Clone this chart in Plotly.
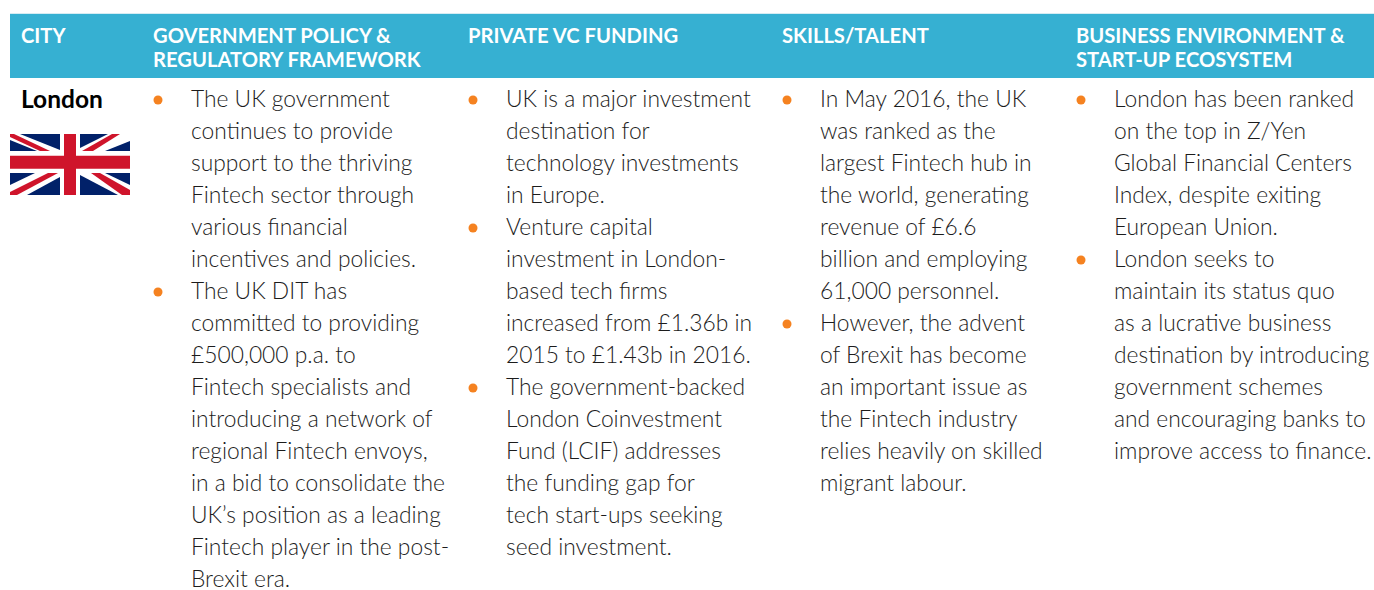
import plotly.graph_objects as go

# ---------- content ----------
headers = [
    ["CITY"],
    ["GOVERNMENT POLICY &", "REGULATORY FRAMEWORK"],
    ["PRIVATE VC FUNDING"],
    ["SKILLS/TALENT"],
    ["BUSINESS ENVIRONMENT &", "START-UP ECOSYSTEM"],
]
city = "London"
policy = [
    ["The UK government", "continues to provide", "support to the thriving", "Fintech sector through",
     "various financial", "incentives and policies."],
    ["The UK DIT has", "committed to providing", "£500,000 p.a. to", "Fintech specialists and",
     "introducing a network of", "regional Fintech envoys,", "in a bid to consolidate the",
     "UK’s position as a leading", "Fintech player in the post-", "Brexit era."],
]
funding = [
    ["UK is a major investment", "destination for", "technology investments", "in Europe."],
    ["Venture capital", "investment in London-", "based tech firms", "increased from £1.36b in", "2015 to £1.43b in 2016."],
    ["The government-backed", "London Coinvestment", "Fund (LCIF) addresses", "the funding gap for",
     "tech start-ups seeking", "seed investment."],
]
skills = [
    ["In May 2016, the UK", "was ranked as the", "largest Fintech hub in", "the world, generating",
     "revenue of £6.6", "billion and employing", "61,000 personnel."],
    ["However, the advent", "of Brexit has become", "an important issue as", "the Fintech industry",
     "relies heavily on skilled", "migrant labour."],
]
business = [
    ["London has been ranked", "on the top in Z/Yen", "Global Financial Centers", "Index, despite exiting",
     "European Union."],
    ["London seeks to", "maintain its status quo", "as a lucrative business", "destination by introducing",
     "government schemes", "and encouraging banks to", "improve access to finance."],
]
columns = [policy, funding, skills, business]

# ---------- layout constants ----------
W, H = 1374, 590
TEAL, ORANGE, INK = "#36B0D2", "#F58220", "#1C1C1C"
NAVY, RED = "#012169", "#CF142B"
header_x = [21, 153, 468, 782, 1076]
bullet_x = [158, 473, 787, 1081]
text_x = [191, 506, 820, 1114]
first_y, pitch = 101, 32
BODY = "Lato"

fig = go.Figure()

# header text
hx, hy, ht = [], [], []
for x, lines in zip(header_x, headers):
    for i, line in enumerate(lines):
        hx.append(x); hy.append(38 + 24 * i); ht.append(line)
fig.add_trace(go.Scatter(x=hx, y=hy, text=ht, mode="text", textposition="middle right",
                         textfont=dict(family=BODY, size=20.2, color="white", weight=700),
                         hoverinfo="skip"))
# city
fig.add_trace(go.Scatter(x=[21], y=[102], text=[city], mode="text", textposition="middle right",
                         textfont=dict(family=BODY, size=24.5, color="#000000", weight=700),
                         hoverinfo="skip"))
# body text and bullets
for tx, bx, col in zip(text_x, bullet_x, columns):
    xs, ys, ts, by = [], [], [], []
    row = 0
    for item in col:
        by.append(first_y + row * pitch - 1)
        for line in item:
            xs.append(tx); ys.append(first_y + row * pitch); ts.append(line)
            row += 1
    fig.add_trace(go.Scatter(x=xs, y=ys, text=ts, mode="text", textposition="middle right",
                             textfont=dict(family=BODY, size=22.8, color=INK, weight=300),
                             hoverinfo="skip"))
    fig.add_trace(go.Scatter(x=[bx] * len(by), y=by, mode="markers",
                             marker=dict(size=9, color=ORANGE), hoverinfo="skip"))

# ---------- shapes ----------
shapes = [
    dict(type="rect", x0=10, x1=W, y0=14, y1=78, fillcolor=TEAL, line_width=0, layer="below"),
    dict(type="line", x0=10, x1=W, y0=13.5, y1=13.5, line=dict(color="#D6ECF3", width=1), layer="below"),
]
# flag
fx0, fx1, fy0, fy1 = 10, 130, 134, 195
cx, cy = 70, 162.2
def poly(pts, color):
    return dict(type="path", path="M" + " L".join(f"{a},{b}" for a, b in pts) + " Z",
                fillcolor=color, line_width=0, layer="above")
navy_triangles = [
    [(20, 134), (60, 134), (60, 150)], [(10, 140), (10, 151), (37, 151)],
    [(80, 134), (108, 134), (80, 148)], [(130, 141), (130, 151), (105, 151)],
    [(105, 173), (130, 173), (130, 185)], [(80, 175), (80, 195), (118, 195)],
    [(10, 173), (35, 173), (10, 185)], [(60, 177), (60, 195), (27, 195)],
]
red_bands = [
    [(10, 134), (14, 134), (50, 151), (40, 151), (10, 137)],
    [(112, 134), (120, 134), (93, 151), (82, 151)],
    [(91, 173), (100, 173), (130, 190), (130, 195), (122, 195)],
    [(48, 173), (58, 173), (17, 195), (10, 195), (10, 192)],
]
shapes.append(dict(type="rect", x0=fx0, x1=fx1, y0=fy0, y1=fy1, fillcolor="white", line_width=0))
shapes += [poly(t, NAVY) for t in navy_triangles]
shapes += [poly(t, RED) for t in red_bands]
shapes += [
    dict(type="rect", x0=60, x1=80, y0=fy0, y1=fy1, fillcolor="white", line_width=0),
    dict(type="rect", x0=fx0, x1=fx1, y0=151, y1=173, fillcolor="white", line_width=0),
    dict(type="rect", x0=64, x1=76, y0=fy0, y1=fy1, fillcolor=RED, line_width=0),
    dict(type="rect", x0=fx0, x1=fx1, y0=155.7, y1=168.7, fillcolor=RED, line_width=0),
]

fig.update_layout(
    width=W, height=H, margin=dict(l=0, r=0, t=0, b=0),
    paper_bgcolor="white", plot_bgcolor="white", showlegend=False, shapes=shapes,
    xaxis=dict(range=[0, W], visible=False, fixedrange=True),
    yaxis=dict(range=[H, 0], visible=False, fixedrange=True),
)
fig.write_html("out.html", config=dict(displayModeBar=False),
               post_script="document.body.style.margin='0';document.documentElement.style.overflow='hidden';")
